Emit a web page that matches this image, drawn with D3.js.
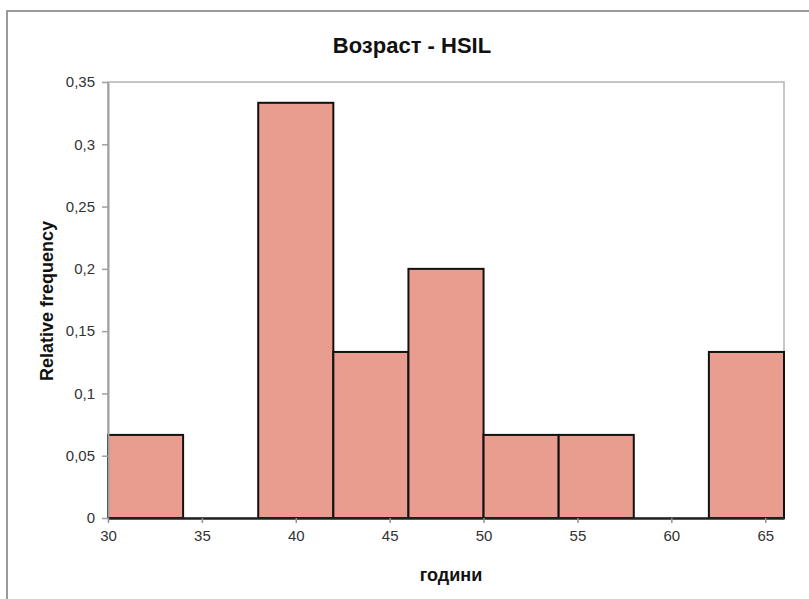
<!DOCTYPE html>
<html>
<head>
<meta charset="utf-8">
<script src="https://cdn.jsdelivr.net/npm/d3@7"></script>
<style>
  html, body { margin: 0; padding: 0; background: #fff; }
  svg { display: block; }
  text { font-family: "Liberation Sans", Arial, sans-serif; }
</style>
</head>
<body>
<svg id="chart" width="809" height="599"></svg>
<script>
// Histogram of ages (years), bins of width 4
const binStarts = [30, 34, 38, 42, 46, 50, 54, 58, 62];
const binWidth = 4;
const relFreq = [0.0667, 0, 0.3333, 0.1333, 0.2, 0.0667, 0.0667, 0, 0.1333];
const xTicks = [30, 35, 40, 45, 50, 55, 60, 65];
const yTicks = [0, 0.05, 0.1, 0.15, 0.2, 0.25, 0.3, 0.35];

const titleText = "Возраст - HSIL";
const xTitle = "години";
const yTitle = "Relative frequency";

const svg = d3.select("#chart");
const plot = { left: 108, right: 784, top: 82, bottom: 518 };

const x = d3.scaleLinear().domain([30, 66]).range([plot.left, plot.right]);
const y = d3.scaleLinear().domain([0, 0.35]).range([plot.bottom, plot.top]);

// outer chart frame (left and top edges)
svg.append("path")
  .attr("d", `M7,599 L7,11 L809,11`)
  .attr("fill", "none").attr("stroke", "#9a9a9a").attr("stroke-width", 2);

// plot area frame
svg.append("rect")
  .attr("x", plot.left).attr("y", plot.top)
  .attr("width", plot.right - plot.left).attr("height", plot.bottom - plot.top)
  .attr("fill", "#fff").attr("stroke", "#b4b4b4").attr("stroke-width", 1.5);

// bars
const data = binStarts.map((s, i) => ({ x0: s, x1: s + binWidth, v: relFreq[i] }));
svg.append("g").selectAll("rect")
  .data(data.filter(d => d.v > 0))
  .join("rect")
  .attr("x", d => x(d.x0))
  .attr("y", d => y(d.v))
  .attr("width", d => x(d.x1) - x(d.x0))
  .attr("height", d => y(0) - y(d.v))
  .attr("fill", "#e99d8f")
  .attr("stroke", "#111")
  .attr("stroke-width", 2);

// y axis
const yAxis = svg.append("g")
  .attr("transform", `translate(${plot.left},0)`)
  .call(d3.axisLeft(y).tickValues(yTicks).tickSize(6).tickSizeOuter(0).tickPadding(7)
    .tickFormat(d => d3.format("~g")(d).replace(".", ",")));
yAxis.select(".domain").attr("stroke", "#a0a0a0").attr("stroke-width", 2);
yAxis.selectAll(".tick line").attr("stroke", "#a0a0a0").attr("stroke-width", 1.5);
yAxis.selectAll(".tick text").attr("font-size", 15).attr("fill", "#333")
  .attr("font-family", "Liberation Sans, Arial, sans-serif");

// x axis
const xAxis = svg.append("g")
  .attr("transform", `translate(0,${plot.bottom})`)
  .call(d3.axisBottom(x).tickValues(xTicks).tickSize(5).tickSizeOuter(0).tickPadding(7)
    .tickFormat(d3.format("d")));
xAxis.select(".domain").attr("stroke", "#222").attr("stroke-width", 2.5);
xAxis.selectAll(".tick line").attr("stroke", "#909090").attr("stroke-width", 1.5);
xAxis.selectAll(".tick text").attr("font-size", 15).attr("fill", "#333")
  .attr("font-family", "Liberation Sans, Arial, sans-serif");

// titles
svg.append("text")
  .attr("x", 412).attr("y", 53)
  .attr("text-anchor", "middle")
  .attr("font-size", 22).attr("font-weight", "bold").attr("fill", "#111")
  .text(titleText);

svg.append("text")
  .attr("x", 451).attr("y", 581)
  .attr("text-anchor", "middle")
  .attr("font-size", 18).attr("font-weight", "bold").attr("fill", "#111")
  .text(xTitle);

svg.append("text")
  .attr("transform", `translate(53,301) rotate(-90)`)
  .attr("text-anchor", "middle")
  .attr("font-size", 18).attr("font-weight", "bold").attr("fill", "#111")
  .text(yTitle);
</script>
</body>
</html>
